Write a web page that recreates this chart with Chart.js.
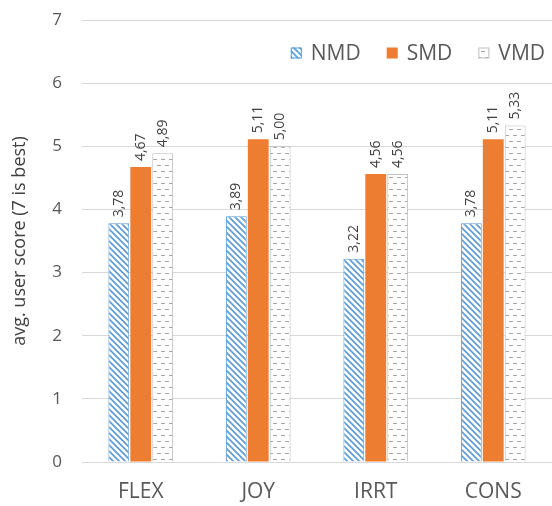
<!DOCTYPE html>
<html>
<head>
<meta charset="utf-8">
<script src="https://cdn.jsdelivr.net/npm/chart.js@4/dist/chart.umd.min.js"></script>
<style>
  html, body { margin: 0; padding: 0; background: #ffffff; }
  #wrap { width: 552px; height: 506px; position: relative; }
</style>
</head>
<body>
<div id="wrap"><canvas id="c" width="552" height="506"></canvas></div>
<script>
// Scores per criterion (scale 1..7)
const categories = ['FLEX', 'JOY', 'IRRT', 'CONS'];
const seriesNames = ['NMD', 'SMD', 'VMD'];
const nmdValues = [3.78, 3.89, 3.22, 3.78];
const smdValues = [4.67, 5.11, 4.56, 5.11];
const vmdValues = [4.89, 5.00, 4.56, 5.33];
const yTicks = [0, 1, 2, 3, 4, 5, 6, 7];

const FONT = '"Open Sans", "Liberation Sans", sans-serif';
const TEXT = '#595959';

// Diagonal hatch fill
function hatchPattern() {
  const s = 6;
  const t = document.createElement('canvas');
  t.width = s; t.height = s;
  const g = t.getContext('2d');
  g.fillStyle = '#ffffff';
  g.fillRect(0, 0, s, s);
  g.strokeStyle = '#5b9bd5';
  g.lineWidth = 1.6;
  g.beginPath();
  g.moveTo(-1, -1); g.lineTo(s + 1, s + 1);
  g.moveTo(-1, s - 1); g.lineTo(1, s + 1);
  g.moveTo(s - 1, -1); g.lineTo(s + 1, 1);
  g.stroke();
  return g.createPattern(t, 'repeat');
}

// Small staggered dashes fill
function dashPattern() {
  const w = 8, h = 12;
  const t = document.createElement('canvas');
  t.width = w; t.height = h;
  const g = t.getContext('2d');
  g.fillStyle = '#ffffff';
  g.fillRect(0, 0, w, h);
  g.fillStyle = '#a6a6a6';
  g.fillRect(1, 3, 4, 1);
  g.fillRect(5, 9, 3, 1);
  g.fillRect(0, 9, 1, 1);
  return g.createPattern(t, 'repeat');
}

const fills = [hatchPattern(), '#ed7d31', dashPattern()];
const borders = ['#5b9bd5', '#ed7d31', '#bfbfbf'];
const borderWidths = [1, 0, 1];
const values = [nmdValues, smdValues, vmdValues];

// Rotated value labels above each bar
const valueLabels = {
  id: 'valueLabels',
  afterDatasetsDraw(chart) {
    const ctx = chart.ctx;
    ctx.save();
    ctx.font = '14px ' + FONT;
    ctx.fillStyle = '#404040';
    ctx.textAlign = 'left';
    ctx.textBaseline = 'middle';
    chart.data.datasets.forEach((ds, i) => {
      const meta = chart.getDatasetMeta(i);
      meta.data.forEach((bar, j) => {
        const txt = ds.data[j].toFixed(2).replace('.', ',');
        ctx.save();
        ctx.translate(bar.x, bar.y - 6);
        ctx.rotate(-Math.PI / 2);
        ctx.fillText(txt, 0, 0);
        ctx.restore();
      });
    });
    ctx.restore();
  }
};

// Legend drawn inside the plot, top right
const insideLegend = {
  id: 'insideLegend',
  afterDraw(chart) {
    const ctx = chart.ctx;
    ctx.save();
    ctx.font = '21px ' + FONT;
    ctx.textBaseline = 'middle';
    ctx.textAlign = 'left';
    const box = 11, gap = 9, spacing = 26, cy = 53;
    let x = 545;
    const items = chart.data.datasets.map((ds, i) => ({ ds, i, w: ctx.measureText(ds.label).width }));
    for (let k = items.length - 1; k >= 0; k--) {
      const it = items[k];
      const tx = x - it.w;
      const bx = tx - gap - box;
      ctx.fillStyle = it.ds.backgroundColor;
      ctx.fillRect(bx, cy - box / 2, box, box);
      if (it.ds.borderWidth) {
        ctx.strokeStyle = it.ds.borderColor;
        ctx.lineWidth = 1;
        ctx.strokeRect(bx + 0.5, cy - box / 2 + 0.5, box - 1, box - 1);
      }
      ctx.fillStyle = TEXT;
      ctx.fillText(it.ds.label, tx, cy + 1);
      x = bx - spacing;
    }
    ctx.restore();
  }
};

new Chart(document.getElementById('c'), {
  type: 'bar',
  data: {
    labels: categories,
    datasets: seriesNames.map((name, i) => ({
      label: name,
      data: values[i],
      backgroundColor: fills[i],
      borderColor: borders[i],
      borderWidth: borderWidths[i],
      categoryPercentage: 0.56,
      barPercentage: 0.95
    }))
  },
  options: {
    responsive: false,
    animation: false,
    layout: { padding: { top: 20, right: 0, left: 0, bottom: 0 } },
    plugins: { legend: { display: false }, tooltip: { enabled: false } },
    scales: {
      x: {
        grid: { display: false },
        border: { display: true, color: '#d9d9d9' },
        ticks: { color: TEXT, font: { family: FONT, size: 21 }, padding: 9 },
        afterFit(s) { s.height = 44; }
      },
      y: {
        min: 0,
        max: 7,
        afterBuildTicks(s) { s.ticks = yTicks.map(v => ({ value: v })); },
        grid: { color: '#d9d9d9', drawTicks: true, tickLength: 20, tickColor: 'rgba(0,0,0,0)' },
        border: { display: false },
        ticks: { color: TEXT, font: { family: FONT, size: 17 }, padding: 0 },
        title: { display: true, text: 'avg. user score (7 is best)', color: '#404040', font: { family: FONT, size: 18 }, padding: { top: 9, bottom: 0 } },
        afterFit(s) { s.width = 82; }
      }
    }
  },
  plugins: [valueLabels, insideLegend]
});
</script>
</body>
</html>
